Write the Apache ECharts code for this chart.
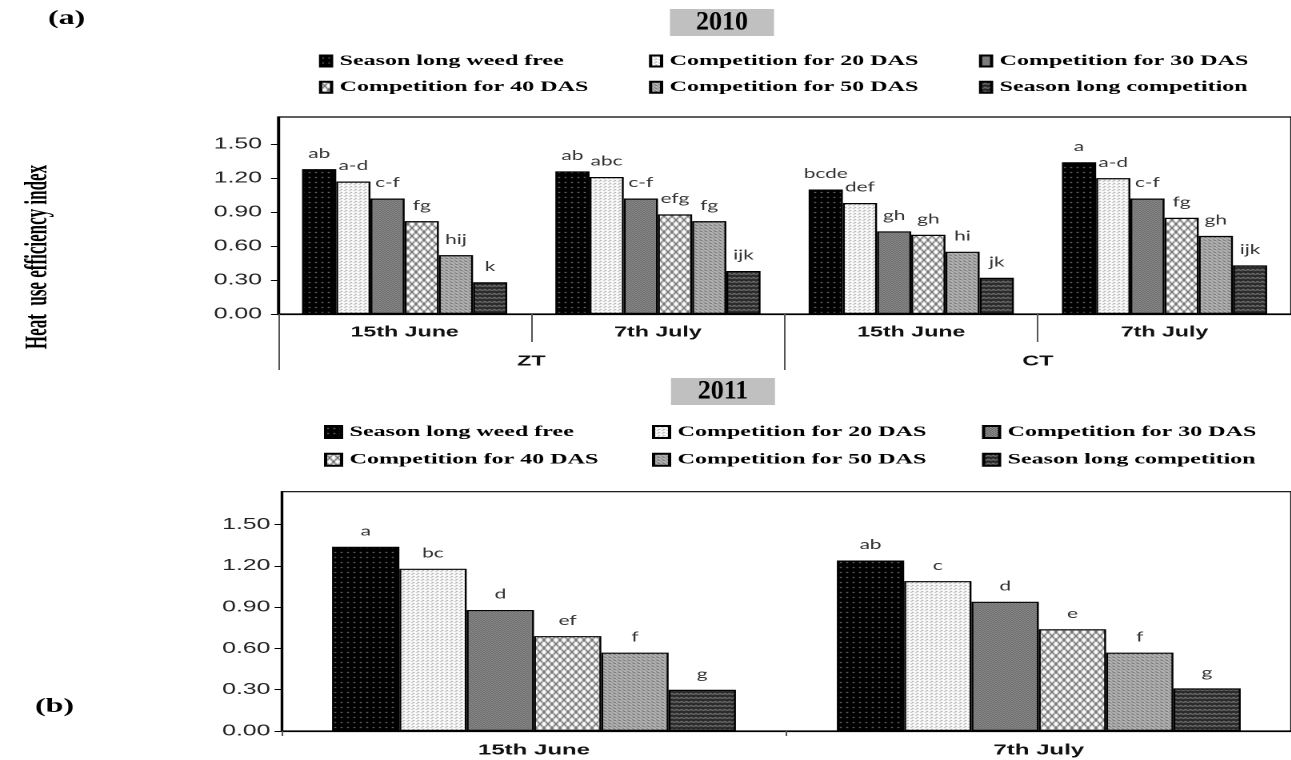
<!DOCTYPE html>
<html>
<head>
<meta charset="utf-8">
<script src="https://cdn.jsdelivr.net/npm/echarts@6/dist/echarts.min.js"></script>
<style>
  html, body { margin: 0; padding: 0; background: #fff; overflow: hidden; }
  /* the source figure is stretched sideways, so the chart is drawn narrow and widened */
  #main { width: 806.875px; height: 760px; transform: scaleX(1.6); transform-origin: 0 0; }
</style>
</head>
<body>
<div id="main"></div>
<script>
// ---- data ----
const treatments = [
  'Season long weed free',
  'Competition for 20 DAS',
  'Competition for 30 DAS',
  'Competition for 40 DAS',
  'Competition for 50 DAS',
  'Season long competition'
];
const yTicks = [0, 0.3, 0.6, 0.9, 1.2, 1.5];

// 2010: sowing date inside tillage
const dates2010 = ['15th June', '7th July', '15th June', '7th July'];
const tillage2010 = ['ZT', 'CT'];
// rows follow treatments, columns follow dates2010
const hue2010 = [
  [1.28, 1.26, 1.10, 1.34],
  [1.17, 1.21, 0.98, 1.20],
  [1.02, 1.02, 0.73, 1.02],
  [0.82, 0.88, 0.70, 0.85],
  [0.52, 0.82, 0.55, 0.69],
  [0.28, 0.38, 0.32, 0.43]
];
const letters2010 = [
  ['ab', 'ab', 'bcde', 'a'],
  ['a-d', 'abc', 'def', 'a-d'],
  ['c-f', 'c-f', 'gh', 'c-f'],
  ['fg', 'efg', 'gh', 'fg'],
  ['hij', 'fg', 'hi', 'gh'],
  ['k', 'ijk', 'jk', 'ijk']
];

// 2011
const dates2011 = ['15th June', '7th July'];
const hue2011 = [
  [1.34, 1.24],
  [1.18, 1.09],
  [0.88, 0.94],
  [0.69, 0.74],
  [0.57, 0.57],
  [0.30, 0.31]
];
const letters2011 = [
  ['a', 'ab'],
  ['bc', 'c'],
  ['d', 'd'],
  ['ef', 'e'],
  ['f', 'f'],
  ['g', 'g']
];

// ---- layout ----
const K = 1.6; // horizontal stretch of the page
const serif = 'Liberation Serif';
const sans = 'Liberation Sans';

// small fill patterns like the excel hatchings
function tile(w, h, draw) {
  const c = document.createElement('canvas');
  c.width = w; c.height = h;
  const ctx = c.getContext('2d');
  draw(ctx, w, h);
  return { image: c, repeat: 'repeat' };
}
function px(ctx, x, y, col) { ctx.fillStyle = col; ctx.fillRect(x, y, 1, 1); }

const fills = [
  tile(4, 5, (ctx, w, h) => { ctx.fillStyle = '#000'; ctx.fillRect(0, 0, w, h); px(ctx, 1, 2, '#9a9a9a'); }),
  tile(3, 3, (ctx, w, h) => { ctx.fillStyle = '#fff'; ctx.fillRect(0, 0, w, h); px(ctx, 0, 0, '#8a8a8a'); px(ctx, 2, 1, '#b0b0b0'); }),
  tile(2, 2, (ctx, w, h) => {
    ctx.fillStyle = '#a2a2a2'; ctx.fillRect(0, 0, w, h);
    px(ctx, 0, 0, '#555'); px(ctx, 1, 1, '#555');
  }),
  tile(5, 8, (ctx, w, h) => {
    ctx.fillStyle = '#fff'; ctx.fillRect(0, 0, w, h);
    ctx.strokeStyle = '#222'; ctx.lineWidth = 0.8;
    ctx.beginPath(); ctx.moveTo(0, 0); ctx.lineTo(w, h); ctx.moveTo(w, 0); ctx.lineTo(0, h); ctx.stroke();
  }),
  tile(3, 3, (ctx, w, h) => {
    ctx.fillStyle = '#c0c0c0'; ctx.fillRect(0, 0, w, h);
    px(ctx, 0, 0, '#555'); px(ctx, 1, 1, '#888'); px(ctx, 2, 2, '#777'); px(ctx, 2, 0, '#999');
  }),
  tile(6, 4, (ctx, w, h) => {
    ctx.fillStyle = '#262626'; ctx.fillRect(0, 0, w, h);
    ctx.strokeStyle = '#a0a0a0'; ctx.lineWidth = 0.8;
    ctx.beginPath(); ctx.moveTo(0, 1); ctx.lineTo(1.5, 3); ctx.lineTo(3, 1); ctx.lineTo(4.5, 3); ctx.lineTo(6, 1); ctx.stroke();
  })
];

function makeSeries(values, letters, xIdx, yIdx, gap) {
  return treatments.map((name, i) => ({
    name: name,
    type: 'bar',
    xAxisIndex: xIdx,
    yAxisIndex: yIdx,
    data: values[i],
    barGap: '0%',
    barCategoryGap: gap,
    itemStyle: { color: fills[i], borderColor: '#000', borderWidth: 1.2 },
    label: {
      show: true,
      position: 'top',
      distance: 9,
      fontFamily: 'Lato',
      fontSize: 13,
      color: '#333',
      formatter: p => letters[i][p.dataIndex]
    }
  }));
}

function legendCol(names, left, top, w, h, gap) {
  return {
    orient: 'vertical',
    left: left / K,
    top: top,
    padding: 0,
    icon: 'rect',
    itemWidth: w / K,
    itemHeight: h,
    itemGap: gap,
    selectedMode: false,
    data: names,
    textStyle: { fontFamily: serif, fontWeight: 'bold', fontSize: 15, lineHeight: 16, color: '#000' }
  };
}

function yAxisOf(grid, margin) {
  return {
    type: 'value',
    gridIndex: grid,
    min: 0,
    max: 1.74,
    splitLine: { show: false },
    axisLine: { show: true, lineStyle: { color: '#000', width: 1.2 } },
    axisTick: { show: true, length: 7 / K, customValues: yTicks, lineStyle: { color: '#000' } },
    axisLabel: {
      customValues: yTicks,
      margin: margin,
      fontFamily: sans,
      fontSize: 15.5,
      color: '#222',
      formatter: v => v.toFixed(2)
    }
  };
}

// grey year box; the year text is not widened in the source, so it is squeezed back
function yearBox(year, left, top) {
  return {
    type: 'group',
    left: left / K,
    top: top,
    children: [
      { type: 'rect', shape: { x: 0, y: 0, width: 104 / K, height: 27 }, style: { fill: '#c0c0c0' } },
      {
        type: 'text', x: 52 / K, y: 14, scaleX: 1 / K,
        style: { text: year, font: 'bold 26px "Liberation Serif"', fill: '#000', align: 'center', verticalAlign: 'middle' }
      }
    ]
  };
}

const chart = echarts.init(document.getElementById('main'), null, { renderer: 'canvas', devicePixelRatio: 2 });

chart.setOption({
  animation: false,
  backgroundColor: '#fff',
  legend: [
    legendCol([treatments[0], treatments[3]], 319, 53, 11, 11, 10.3),
    legendCol([treatments[1], treatments[4]], 649, 53, 11, 11, 10.3),
    legendCol([treatments[2], treatments[5]], 979, 53, 11, 11, 10.3),
    legendCol([treatments[0], treatments[3]], 324, 424, 16, 12, 11.7),
    legendCol([treatments[1], treatments[4]], 652, 424, 16, 12, 11.7),
    legendCol([treatments[2], treatments[5]], 982, 424, 16, 12, 11.7)
  ],
  grid: [
    { left: 278 / K, top: 117, width: 1018 / K, height: 197, show: true, borderColor: '#000', borderWidth: 1.2 },
    { left: 281.6 / K, top: 491.7, width: 1012.4 / K, height: 239.3, show: true, borderColor: '#000', borderWidth: 1.2 }
  ],
  xAxis: [
    {
      type: 'category', gridIndex: 0, position: 'bottom', data: dates2010,
      axisLine: { onZero: false, lineStyle: { color: '#000', width: 1.2 } },
      axisTick: { show: true, interval: 0, length: 28, lineStyle: { color: '#555' } },
      axisLabel: { interval: 0, margin: 11, fontFamily: sans, fontWeight: 'bold', fontSize: 14.5, color: '#111' }
    },
    {
      type: 'category', gridIndex: 0, position: 'bottom', data: tillage2010,
      axisLine: { show: false, onZero: false },
      axisTick: { show: true, interval: 0, length: 56, lineStyle: { color: '#555' } },
      axisLabel: { interval: 0, margin: 40, fontFamily: sans, fontWeight: 'bold', fontSize: 14.5, color: '#111' }
    },
    {
      type: 'category', gridIndex: 1, position: 'bottom', data: dates2011,
      axisLine: { onZero: false, lineStyle: { color: '#000', width: 1.2 } },
      axisTick: { show: true, interval: 0, length: 5, lineStyle: { color: '#555' } },
      axisLabel: { interval: 0, margin: 12, fontFamily: sans, fontWeight: 'bold', fontSize: 15, color: '#111' }
    }
  ],
  yAxis: [yAxisOf(0, 10), yAxisOf(1, 7)],
  graphic: [
    yearBox('2010', 670, 9),
    yearBox('2011', 671, 378),
    {
      type: 'text', left: 48 / K, top: 9,
      style: { text: '(a)', font: 'bold 20px "Liberation Serif"', fill: '#000' }
    },
    {
      type: 'text', left: 35 / K, top: 697,
      style: { text: '(b)', font: 'bold 20px "Liberation Serif"', fill: '#000' }
    },
    {
      type: 'text', x: 38 / K, y: 257, rotation: Math.PI / 2, scaleY: 1.2,
      style: {
        text: 'Heat  use efficiency index', font: 'bold 17px "Liberation Serif"', fill: '#000',
        align: 'center', verticalAlign: 'middle'
      }
    }
  ],
  series: makeSeries(hue2010, letters2010, 0, 0, '19%')
    .concat(makeSeries(hue2011, letters2011, 2, 1, '20%'))
});
</script>
</body>
</html>
